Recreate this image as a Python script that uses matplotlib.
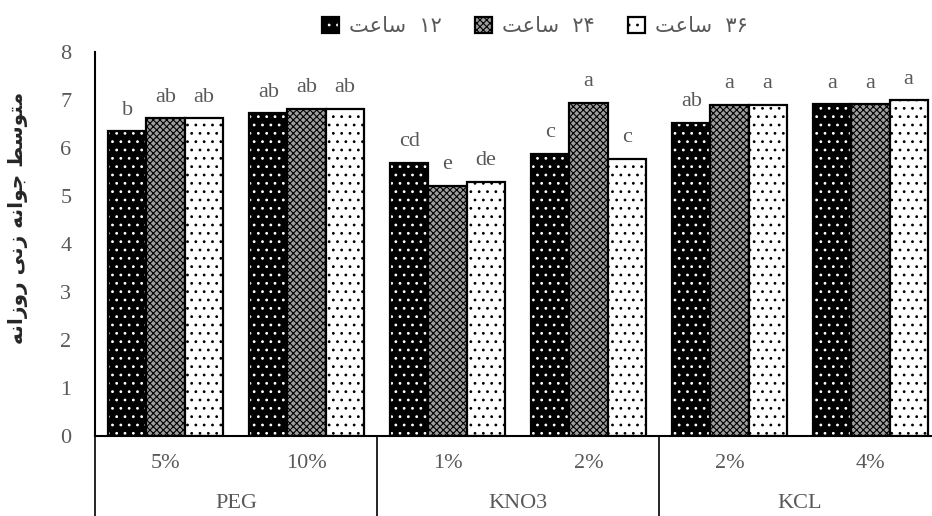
import numpy as np
import matplotlib
matplotlib.use("Agg")
import matplotlib.pyplot as plt
from matplotlib.patches import Patch
from matplotlib.transforms import blended_transform_factory

# values
subcats = ['5%', '10%', '1%', '2%', '2%', '4%']
groups = ['PEG', 'KNO3', 'KCL']
group_spans = [(0, 1), (2, 3), (4, 5)]
h12 = [6.35, 6.72, 5.69, 5.88, 6.53, 6.91]
h24 = [6.62, 6.81, 5.21, 6.94, 6.90, 6.91]
h36 = [6.62, 6.81, 5.29, 5.77, 6.90, 6.99]
letters12 = ['b', 'ab', 'cd', 'c', 'ab', 'a']
letters24 = ['ab', 'ab', 'e', 'a', 'a', 'a']
letters36 = ['ab', 'ab', 'de', 'c', 'a', 'a']

# Persian labels, already in presentation forms and visual (left-to-right) order
saat = '\uFE96\uFECB\uFE8E\uFEB3'
legend_labels = [saat + '  \u06F1\u06F2', saat + '  \u06F2\u06F4', saat + '  \u06F3\u06F6']
ylabel = ('\uFEEA\uFEE7\uFE8D\uFEAF\uFEED\uFEAD' + ' ' +
          '\uFEF0\uFEE7\uFEAF' + ' ' +
          '\uFEEA\uFEE7\uFE8D\uFEEE\uFE9F' + ' ' +
          '\uFEC2\uFEB3\uFEEE\uFE98\uFEE3')

GRAY = '#595959'
SERIF = 'Liberation Serif'

# (facecolor, hatch colour, hatch) per series
styles = [('black', 'white', '..'), ('#9e9e9e', 'black', 'xxxxx'), ('white', 'black', '..')]
series = [h12, h24, h36]
letters = [letters12, letters24, letters36]

plt.rcParams['hatch.linewidth'] = 0.8

fig = plt.figure(figsize=(9.32, 5.16), dpi=100)
ax = fig.add_axes([95 / 932, 80 / 516, 846 / 932, 384 / 516])

x = np.arange(len(subcats))
width = 0.27
offsets = [-width, 0, width]
handles = []
for vals, labs, (fc, hc, hatch), off in zip(series, letters, styles, offsets):
    ax.bar(x + off, vals, width, color=fc, edgecolor=hc, hatch=hatch, linewidth=0)
    ax.bar(x + off, vals, width, fill=False, edgecolor='black', linewidth=1.6)
    for xi, v, t in zip(x, vals, labs):
        ax.annotate(t, (xi + off, v), xytext=(0, 12), textcoords='offset points',
                    ha='center', va='baseline', fontsize=16, color=GRAY, family=SERIF)
    handles.append((Patch(facecolor=fc, edgecolor=hc, hatch=hatch, linewidth=0),
                    Patch(fill=False, edgecolor='black', linewidth=1.6)))

ax.set_xlim(-0.5, 5.5)
ax.set_ylim(0, 8)
ax.set_yticks(range(0, 9))
ax.tick_params(axis='y', length=0, pad=17, labelsize=16, labelcolor=GRAY)
for lab in ax.get_yticklabels():
    lab.set_family(SERIF)
ax.set_xticks([])
for s in ['top', 'right']:
    ax.spines[s].set_visible(False)
ax.spines['left'].set_linewidth(1.5)
ax.spines['bottom'].set_linewidth(1.5)

# two-level category axis
trans = blended_transform_factory(ax.transData, ax.transAxes)
for xi, t in zip(x, subcats):
    ax.text(xi, -28 / 384, t, transform=trans, ha='center', va='center',
            fontsize=16, color=GRAY, family=SERIF)
for (a, b), g in zip(group_spans, groups):
    ax.text((a + b) / 2, -68 / 384, g, transform=trans, ha='center', va='center',
            fontsize=16, color=GRAY, family=SERIF)
for sep in [-0.5, 1.5, 3.5, 5.5]:
    ax.plot([sep, sep], [0, -80 / 384], transform=trans, color='black',
            linewidth=1.2, clip_on=False)

fig.text(18 / 932, 1 - 218 / 516, ylabel, rotation=90, ha='center', va='center',
         fontsize=14.5, fontweight='bold', color='#262626', family='DejaVu Sans')

fig.legend(handles, legend_labels, loc='center', bbox_to_anchor=(535 / 932, 1 - 26 / 516),
           ncol=3, frameon=False, labelcolor=GRAY,
           prop={'family': 'DejaVu Sans', 'size': 15},
           handlelength=0.8, handleheight=0.8, handletextpad=0.5, columnspacing=1.6)

fig.savefig('out.png', dpi=100)
